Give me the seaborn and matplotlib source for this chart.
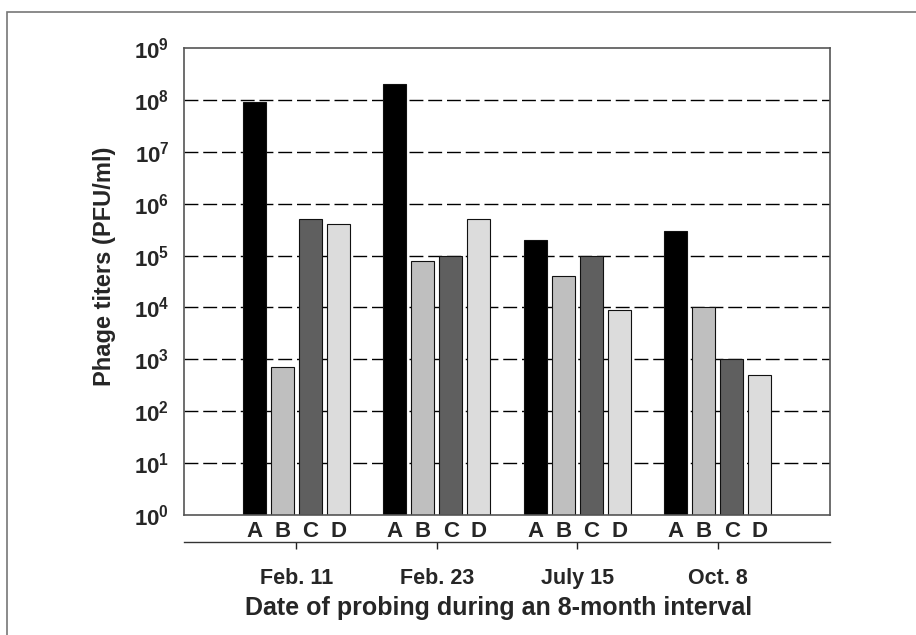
import numpy as np
import pandas as pd
import matplotlib
matplotlib.use("Agg")
import matplotlib.pyplot as plt
from matplotlib.patches import Rectangle
from matplotlib.ticker import NullLocator
import seaborn as sns

# ---- data ----
dates = ["Feb. 11", "Feb. 23", "July 15", "Oct. 8"]
samples = ["A", "B", "C", "D"]
titer_A = [9e7, 2e8, 2e5, 3e5]
titer_B = [7e2, 8e4, 4e4, 1e4]
titer_C = [5e5, 1e5, 1e5, 1e3]
titer_D = [4e5, 5e5, 9e3, 5e2]
decades = list(range(0, 10))
bar_colors = ["#000000", "#bfbfbf", "#5f5f5f", "#dcdcdc"]

sns.set_style("white")
plt.rcParams["font.family"] = ["Liberation Sans", "DejaVu Sans"]
plt.rcParams["font.weight"] = "bold"
plt.rcParams["mathtext.fontset"] = "custom"
plt.rcParams["mathtext.bf"] = "Liberation Sans:bold"
plt.rcParams["mathtext.rm"] = "Liberation Sans:bold"
plt.rcParams["mathtext.it"] = "Liberation Sans:bold"

rows = []
for s, vals in zip(samples, [titer_A, titer_B, titer_C, titer_D]):
    for d, v in zip(dates, vals):
        rows.append({"date": d, "sample": s, "titer": v})
df = pd.DataFrame(rows)

fig = plt.figure(figsize=(9.16, 6.35), dpi=100)
ax = fig.add_axes([184 / 916, 1 - 515 / 635, (830 - 184) / 916, (515 - 48) / 635])

sns.barplot(data=df, x="date", y="titer", hue="sample", order=dates,
            hue_order=samples, palette=bar_colors, saturation=1,
            log_scale=True, gap=0.18, edgecolor="#111111", linewidth=0.8,
            errorbar=None, legend=False, bottom=1, ax=ax, zorder=2)

# y axis
ax.set_ylim(1, 1e9)
ax.yaxis.set_minor_locator(NullLocator())
ax.set_yticks([10.0 ** k for k in decades])
ax.set_yticklabels([rf"$\mathbf{{10^{{{k}}}}}$" for k in decades], fontsize=16)
ax.tick_params(axis="y", direction="out", length=4.5, width=1, color="#222222", pad=6)
ax.grid(False)
for k in decades[1:-1]:
    ax.axhline(10.0 ** k, color="black", linewidth=1,
               linestyle=(0, (10, 3.5)), zorder=1)

# x axis: bar letters
pos, labs = [], []
for cont, s in zip(ax.containers, samples):
    for bar in cont:
        pos.append(bar.get_x() + bar.get_width() / 2)
        labs.append(s)
ax.set_xticks(pos)
ax.set_xticklabels(labs, fontsize=16, fontweight="bold")
ax.tick_params(axis="x", length=0, pad=4)
ax.set_xlim(-0.8, 3.8)
ax.set_xlabel("")
ax.set_ylabel("")

for sp in ax.spines.values():
    sp.set_visible(True)
    sp.set_color("#555555")
    sp.set_linewidth(1.2)
    sp.set_zorder(3)

# secondary axis with date groups
sec = ax.secondary_xaxis(-0.058)
sec.set_xticks(range(len(dates)))
sec.set_xticklabels(dates, fontsize=15.5, fontweight="bold")
sec.tick_params(direction="out", length=5, width=1, color="#222222", pad=14)
sec.spines["bottom"].set_color("#333333")
sec.spines["bottom"].set_linewidth(1.0)

fig.text(499 / 916, 1 - 608 / 635, "Date of probing during an 8-month interval",
         ha="center", va="center", fontsize=18, fontweight="bold")
fig.text(105 / 916, 1 - 266 / 635, "Phage titers (PFU/ml)", rotation=90,
         ha="center", va="center", fontsize=17, fontweight="bold")

fig.add_artist(Rectangle((7 / 916, -0.05), 1.5, 0.05 + 1 - 12 / 635,
                         transform=fig.transFigure, fill=False,
                         edgecolor="#777777", linewidth=1.2))

fig.savefig("out.png", dpi=100)
